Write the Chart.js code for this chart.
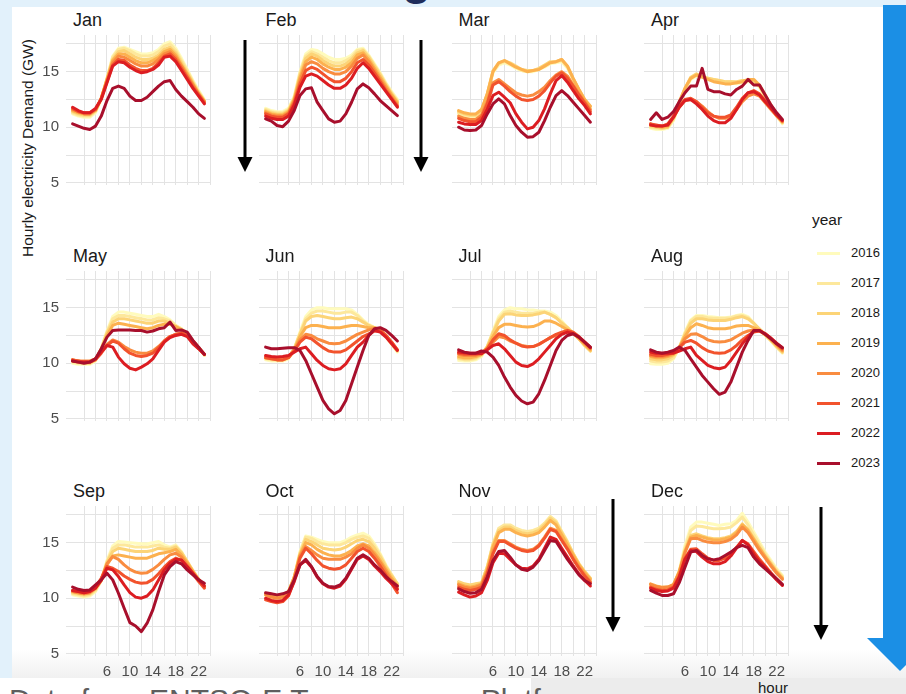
<!DOCTYPE html>
<html>
<head>
<meta charset="utf-8">
<script src="https://cdn.jsdelivr.net/npm/chart.js@4.4.0/dist/chart.umd.min.js"></script>
<style>
  html, body { margin: 0; padding: 0; background: #fff; }
  #page { position: relative; width: 906px; height: 694px; overflow: hidden; background: #fff; font-family: 'Liberation Sans', Arial, sans-serif; }
  .abs { position: absolute; }
  .panel-title { position: absolute; font-size: 18px; line-height: 18px; color: #1a1a1a; }
  .leg-key { position: absolute; left: 817px; width: 23px; height: 3.5px; }
  .leg-txt { position: absolute; left: 851px; font-size: 13px; line-height: 14px; color: #1a1a1a; }
  canvas { position: absolute; }
</style>
</head>
<body>
<div id="page">
  <div class="abs" style="left:0;top:0;width:906px;height:7px;background:#e2f1fb"></div>
  <div class="abs" style="left:0;top:0;width:12px;height:678px;background:#e2f1fb"></div>
  <div class="abs" style="left:12px;top:650px;width:894px;height:28px;background:linear-gradient(#ffffff,#f1f1f1)"></div>
  <div class="abs" style="left:531px;top:678px;width:375px;height:16px;background:#ececec"></div>
  <div class="abs" style="left:402px;top:-46px;font-size:48px;line-height:48px;font-weight:bold;color:#1f2d5c">g</div>
  <div class="abs" style="left:9px;top:685px;font-size:30px;line-height:30px;color:#5e5e5e;white-space:nowrap">Data from ENTSO-E Transparency Platform</div>
  <div class="abs" style="left:758px;top:680px;font-size:15px;line-height:15px;color:#1a1a1a">hour</div>
  <div class="abs" style="left:28px;top:148px;font-size:15.5px;color:#1a1a1a;white-space:nowrap;transform:translate(-50%,-50%) rotate(-90deg)">Hourly electricity Demand (GW)</div>
  <div class="abs" style="left:812px;top:212px;font-size:15.5px;line-height:16px;color:#1a1a1a">year</div>
  <div id="legend"></div>
  <div id="panels"></div>
  <svg class="abs" style="left:0;top:0" width="906" height="694">
    <rect x="883" y="5" width="34" height="634" fill="#1b8fe5"/>
    <polygon points="867,638 933,638 900,671" fill="#1b8fe5"/>
    <g stroke="#000" stroke-width="3">
      <line x1="245" y1="40" x2="245" y2="160"/>
      <line x1="421" y1="40" x2="421" y2="160"/>
      <line x1="613" y1="499" x2="613" y2="620"/>
      <line x1="821" y1="507" x2="821" y2="628"/>
    </g>
    <g fill="#000">
      <polygon points="237.5,157 252.5,157 245,172"/>
      <polygon points="413.5,157 428.5,157 421,172"/>
      <polygon points="605.5,617 620.5,617 613,632"/>
      <polygon points="813.5,625 828.5,625 821,640"/>
    </g>
  </svg>
</div>
<script>
const hours = [0,1,2,3,4,5,6,7,8,9,10,11,12,13,14,15,16,17,18,19,20,21,22,23];
const years = ['2016','2017','2018','2019','2020','2021','2022','2023'];
const months = ['Jan','Feb','Mar','Apr','May','Jun','Jul','Aug','Sep','Oct','Nov','Dec'];
const yTicks = [5, 7.5, 10, 12.5, 15, 17.5];
const yLabels = [5, 10, 15];
const xTicks = [2, 4, 6, 8, 10, 12, 14, 16, 18, 20, 22, 24];
const xLabels = [6, 10, 14, 18, 22];

// hourly demand (GW), one row per year 2016..2023
const jan = [
  [11.2,11.0,10.9,10.9,11.3,12.5,14.4,16.4,17.1,17.2,17.0,16.8,16.6,16.6,16.7,17.0,17.5,17.7,17.1,16.2,15.2,14.2,13.3,12.5],
  [11.3,11.1,11.0,11.0,11.4,12.6,14.4,16.3,17.0,17.1,16.9,16.6,16.4,16.4,16.5,16.8,17.3,17.5,16.9,16.0,15.1,14.1,13.2,12.4],
  [11.4,11.2,11.1,11.1,11.5,12.6,14.3,16.1,16.8,16.9,16.6,16.3,16.1,16.1,16.2,16.5,17.0,17.2,16.7,15.8,14.9,14.0,13.1,12.4],
  [11.5,11.3,11.2,11.2,11.5,12.6,14.3,16.0,16.6,16.6,16.3,16.0,15.8,15.8,16.0,16.3,16.8,17.0,16.5,15.6,14.8,13.9,13.0,12.3],
  [11.6,11.4,11.2,11.2,11.6,12.6,14.2,15.8,16.4,16.3,16.0,15.7,15.5,15.5,15.7,16.1,16.6,16.8,16.3,15.5,14.6,13.8,13.0,12.3],
  [11.7,11.4,11.3,11.3,11.6,12.6,14.1,15.6,16.1,16.0,15.6,15.3,15.1,15.1,15.3,15.8,16.4,16.6,16.1,15.3,14.5,13.6,12.9,12.2],
  [11.8,11.5,11.3,11.3,11.7,12.5,14.0,15.5,15.9,15.8,15.4,15.1,14.9,15.0,15.2,15.6,16.3,16.4,15.9,15.1,14.3,13.5,12.8,12.1],
  [10.3,10.1,9.9,9.8,10.1,11.0,12.4,13.5,13.7,13.5,12.8,12.4,12.4,12.7,13.2,13.7,14.1,14.2,13.4,12.8,12.3,11.8,11.2,10.8]
];
const feb = [
  [11.7,11.5,11.4,11.4,11.7,12.8,15.0,16.6,17.0,16.9,16.6,16.3,16.1,16.1,16.2,16.5,17.0,17.1,16.5,15.7,14.9,14.0,13.2,12.5],
  [11.6,11.4,11.3,11.3,11.6,12.7,14.9,16.4,16.8,16.6,16.3,16.0,15.8,15.8,16.0,16.3,16.9,17.0,16.4,15.6,14.8,13.9,13.1,12.4],
  [11.5,11.3,11.2,11.2,11.5,12.6,14.7,16.2,16.6,16.4,16.0,15.7,15.5,15.5,15.7,16.1,16.7,16.9,16.3,15.5,14.7,13.8,13.0,12.3],
  [11.4,11.2,11.1,11.1,11.4,12.5,14.5,15.9,16.3,16.1,15.7,15.4,15.2,15.2,15.4,15.8,16.5,16.7,16.1,15.3,14.5,13.7,12.9,12.2],
  [11.3,11.1,11.0,11.0,11.3,12.4,14.2,15.6,15.9,15.7,15.3,15.0,14.8,14.8,15.0,15.5,16.2,16.5,15.9,15.1,14.3,13.5,12.7,12.0],
  [11.2,11.0,10.9,10.9,11.2,12.2,13.9,15.1,15.4,15.2,14.8,14.4,14.1,14.1,14.4,15.0,15.8,16.1,15.6,14.9,14.1,13.3,12.6,11.9],
  [11.0,10.8,10.7,10.7,11.0,12.0,13.6,14.6,14.8,14.6,14.2,13.8,13.5,13.5,13.8,14.4,15.3,15.8,15.3,14.6,13.9,13.2,12.5,11.8],
  [10.75,10.55,10.15,10.05,10.55,11.5,12.85,13.45,13.55,12.25,11.5,10.75,10.45,10.55,11.2,12.25,13.45,13.9,13.55,13.0,12.4,11.95,11.5,11.05]
];
const mar = [
  [11.2,11.0,10.9,10.9,11.3,12.8,14.9,15.6,15.8,15.6,15.3,15.1,15.0,15.0,15.2,15.4,15.7,15.8,15.9,15.3,14.3,13.3,12.4,11.7],
  [11.3,11.1,11.0,11.0,11.4,12.9,15.0,15.7,15.9,15.7,15.4,15.1,15.0,15.1,15.2,15.5,15.8,15.9,16.0,15.4,14.3,13.3,12.4,11.8],
  [11.4,11.2,11.1,11.1,11.5,13.0,15.1,15.8,16.0,15.8,15.5,15.2,15.1,15.1,15.3,15.6,15.9,15.9,16.1,15.5,14.4,13.4,12.5,11.9],
  [11.5,11.3,11.2,11.2,11.6,13.0,15.0,15.8,16.0,15.7,15.4,15.2,15.0,15.1,15.2,15.5,15.8,15.9,16.1,15.5,14.4,13.4,12.5,11.9],
  [11.0,10.8,10.7,10.7,11.1,12.3,14.0,14.3,13.9,13.5,13.1,12.9,12.8,12.9,13.2,13.6,14.2,14.7,15.0,14.6,13.8,13.0,12.3,11.6],
  [10.8,10.6,10.5,10.5,10.9,12.1,13.8,14.1,13.7,13.2,12.8,12.5,12.4,12.5,12.8,13.3,14.0,14.6,14.9,14.4,13.7,12.9,12.2,11.4],
  [10.45,10.3,10.25,10.25,10.6,11.6,12.85,13.15,12.7,12.2,11.2,10.45,9.85,10.0,10.6,11.65,13.0,14.2,14.65,14.05,13.3,12.55,11.95,11.2],
  [10.0,9.75,9.7,9.75,10.15,11.2,12.1,12.55,12.1,11.05,10.15,9.55,9.1,9.15,9.55,10.6,11.8,12.85,13.3,12.85,12.25,11.65,11.05,10.45]
];
const apr = [
  [9.9,9.8,9.8,9.9,10.6,12.0,13.3,14.3,14.6,14.5,14.4,14.2,14.1,14.0,14.0,13.9,14.0,14.1,14.1,13.6,12.7,11.8,11.0,10.3],
  [10.0,9.9,9.9,10.0,10.7,12.1,13.4,14.4,14.7,14.6,14.4,14.3,14.2,14.1,14.1,14.0,14.1,14.2,14.2,13.7,12.8,11.9,11.1,10.4],
  [10.1,10.0,9.9,10.0,10.8,12.2,13.5,14.5,14.8,14.6,14.4,14.3,14.2,14.1,14.1,14.1,14.2,14.2,14.2,13.7,12.8,11.9,11.1,10.4],
  [10.2,10.1,10.0,10.1,10.9,12.3,13.5,14.4,14.7,14.5,14.3,14.1,14.0,13.9,13.9,14.0,14.1,14.3,14.3,13.8,12.9,12.0,11.2,10.5],
  [10.3,10.1,10.1,10.2,10.9,11.8,12.4,12.5,12.3,11.9,11.4,11.0,10.8,10.8,11.0,11.6,12.3,12.8,13.0,12.8,12.2,11.6,11.0,10.5],
  [10.3,10.2,10.1,10.3,11.0,11.9,12.5,12.6,12.3,11.8,11.3,11.0,10.9,10.9,11.1,11.8,12.6,13.1,13.3,13.0,12.4,11.8,11.1,10.6],
  [10.2,10.1,10.1,10.2,10.9,11.8,12.4,12.5,12.1,11.6,11.0,10.6,10.4,10.4,10.8,11.6,12.5,13.1,13.2,12.9,12.3,11.7,11.1,10.6],
  [10.7,11.3,10.7,10.9,11.4,12.3,13.1,13.7,13.7,15.3,13.4,13.2,13.2,13.0,12.9,13.4,13.7,14.3,13.8,13.8,12.9,12.0,11.3,10.7]
];
const may = [
  [10.0,9.9,9.9,9.9,10.2,11.3,12.9,14.2,14.6,14.6,14.5,14.4,14.3,14.2,14.2,14.4,14.2,13.9,13.4,13.1,12.6,12.0,11.4,10.7],
  [10.1,10.0,10.0,10.0,10.3,11.3,12.8,14.0,14.3,14.3,14.2,14.1,14.0,13.9,13.9,14.1,14.0,13.8,13.4,13.1,12.6,12.0,11.4,10.7],
  [10.2,10.1,10.0,10.0,10.3,11.3,12.7,13.7,14.0,14.0,13.9,13.8,13.7,13.6,13.6,13.8,13.8,13.6,13.3,13.0,12.6,12.0,11.4,10.8],
  [10.3,10.2,10.1,10.1,10.4,11.2,12.5,13.4,13.6,13.5,13.4,13.3,13.2,13.1,13.2,13.4,13.5,13.5,13.3,13.0,12.6,12.0,11.4,10.8],
  [10.3,10.2,10.2,10.2,10.4,11.0,11.7,12.1,11.9,11.5,11.2,11.0,10.9,10.9,11.1,11.5,12.0,12.4,12.6,12.7,12.5,12.0,11.4,10.8],
  [10.3,10.2,10.1,10.1,10.3,10.9,11.6,12.0,11.8,11.3,10.9,10.7,10.6,10.7,10.9,11.4,12.0,12.4,12.6,12.7,12.5,11.9,11.3,10.8],
  [10.2,10.1,10.1,10.1,10.4,11.0,11.6,11.45,10.55,9.95,9.55,9.4,9.65,9.95,10.4,11.15,11.9,12.3,12.5,12.6,12.4,11.75,11.3,10.8],
  [10.2,10.1,10.0,10.1,10.4,11.3,12.35,12.95,13.0,13.0,13.0,12.95,12.95,12.8,12.9,13.1,13.2,13.7,12.95,13.0,12.8,12.05,11.45,10.8]
];
const jun = [
  [10.3,10.2,10.2,10.2,10.4,11.3,12.8,14.2,14.8,15.0,15.0,14.9,14.9,14.9,14.9,14.8,14.4,13.9,13.5,13.2,13.0,12.4,11.7,11.0],
  [10.4,10.3,10.3,10.3,10.5,11.3,12.7,14.0,14.5,14.7,14.7,14.6,14.5,14.5,14.6,14.6,14.3,13.8,13.4,13.2,13.0,12.4,11.7,11.1],
  [10.5,10.4,10.3,10.3,10.5,11.3,12.6,13.8,14.2,14.3,14.2,14.1,14.0,14.0,14.1,14.15,14.0,13.7,13.4,13.2,13.0,12.4,11.8,11.1],
  [10.5,10.4,10.3,10.3,10.5,11.2,12.4,13.2,13.4,13.4,13.3,13.2,13.2,13.2,13.3,13.4,13.4,13.3,13.2,13.2,13.0,12.5,11.8,11.2],
  [10.6,10.5,10.4,10.4,10.6,11.2,12.1,12.6,12.5,12.2,12.0,11.8,11.75,11.8,12.0,12.3,12.6,12.8,13.0,13.1,13.0,12.5,11.9,11.2],
  [10.5,10.4,10.3,10.3,10.5,11.1,11.9,12.35,12.2,11.8,11.4,11.1,11.0,11.0,11.2,11.6,12.0,12.4,12.65,12.9,12.9,12.5,11.9,11.2],
  [10.7,10.6,10.55,10.6,10.7,11.0,11.3,11.45,10.85,10.25,9.8,9.5,9.4,9.5,9.95,10.7,11.45,11.9,12.5,12.95,12.8,12.35,11.75,11.15],
  [11.45,11.3,11.3,11.35,11.4,11.4,11.15,10.25,9.05,7.85,6.65,5.9,5.45,5.75,6.65,8.15,9.65,11.15,12.5,13.1,13.2,12.95,12.5,12.0]
];
const jul = [
  [10.25,10.2,10.2,10.3,10.6,11.5,12.9,14.2,14.8,15.0,14.9,14.9,14.8,14.8,14.7,14.7,14.6,14.3,13.8,13.2,12.7,12.2,11.6,11.1],
  [10.4,10.3,10.3,10.4,10.7,11.5,12.8,14.0,14.6,14.7,14.6,14.5,14.5,14.5,14.6,14.6,14.4,14.1,13.7,13.2,12.7,12.2,11.6,11.1],
  [10.5,10.4,10.4,10.5,10.8,11.5,12.7,13.8,14.4,14.45,14.35,14.3,14.3,14.35,14.45,14.6,14.4,14.1,13.6,13.2,12.7,12.2,11.6,11.1],
  [10.6,10.5,10.5,10.6,10.8,11.4,12.4,13.2,13.5,13.5,13.4,13.3,13.25,13.3,13.5,13.8,13.8,13.6,13.3,13.0,12.7,12.2,11.7,11.2],
  [10.8,10.7,10.7,10.7,10.9,11.3,11.9,12.4,12.3,12.0,11.8,11.6,11.5,11.5,11.7,12.0,12.3,12.5,12.7,12.8,12.7,12.3,11.8,11.3],
  [10.9,10.8,10.8,10.8,10.9,11.3,12.1,12.65,12.5,12.1,11.8,11.55,11.45,11.5,11.7,12.0,12.3,12.6,12.8,12.95,12.8,12.4,11.9,11.4],
  [11.0,10.95,10.9,10.9,10.85,11.2,11.6,11.75,11.3,10.7,10.1,9.8,9.7,9.95,10.4,11.0,11.6,12.2,12.6,12.8,12.65,12.35,11.9,11.4],
  [11.2,11.0,10.9,10.9,11.1,11.0,10.55,9.8,8.75,7.85,7.1,6.6,6.35,6.5,7.25,8.45,9.8,11.15,12.05,12.5,12.65,12.35,11.9,11.45]
];
const aug = [
  [9.95,9.9,9.9,10.0,10.4,11.4,12.8,13.9,14.3,14.3,14.2,14.15,14.1,14.1,14.15,14.3,14.4,14.2,13.6,13.0,12.5,12.0,11.4,10.9],
  [10.2,10.1,10.1,10.2,10.5,11.4,12.7,13.8,14.2,14.2,14.1,14.05,14.05,14.05,14.1,14.25,14.3,14.1,13.6,13.0,12.5,12.0,11.5,11.0],
  [10.4,10.3,10.3,10.4,10.7,11.4,12.6,13.6,14.0,14.0,13.9,13.85,13.85,13.85,13.95,14.1,14.2,14.0,13.6,13.1,12.6,12.1,11.5,11.0],
  [10.6,10.5,10.5,10.6,10.8,11.4,12.4,13.2,13.55,13.4,13.2,13.1,13.1,13.1,13.2,13.35,13.4,13.4,13.2,13.0,12.6,12.1,11.6,11.1],
  [10.7,10.6,10.6,10.7,10.9,11.4,12.2,12.6,12.65,12.4,12.1,11.95,11.9,11.95,12.1,12.4,12.7,12.9,13.0,12.9,12.6,12.2,11.7,11.2],
  [10.8,10.7,10.7,10.8,11.0,11.4,11.9,12.05,11.8,11.4,11.1,10.95,10.9,10.95,11.2,11.6,12.1,12.5,12.8,12.9,12.65,12.25,11.75,11.3],
  [11.0,10.9,10.9,10.9,10.9,11.1,11.3,11.45,10.7,10.25,9.8,9.6,9.5,9.65,10.25,11.0,11.75,12.35,12.9,12.95,12.65,12.25,11.8,11.4],
  [11.2,11.0,10.9,11.0,11.15,11.45,11.15,10.4,9.65,8.9,8.3,7.7,7.2,7.4,8.3,9.65,11.0,12.05,12.95,12.95,12.6,12.2,11.75,11.4]
];
const sep = [
  [10.3,10.2,10.1,10.2,10.6,11.6,13.4,14.7,15.1,15.05,15.0,14.95,14.9,14.9,15.0,15.1,14.8,14.6,14.8,14.2,13.3,12.4,11.6,11.0],
  [10.4,10.3,10.2,10.3,10.7,11.6,13.3,14.5,14.8,14.8,14.7,14.6,14.6,14.6,14.7,14.8,14.6,14.5,14.7,14.1,13.3,12.4,11.7,11.0],
  [10.5,10.4,10.3,10.4,10.8,11.6,13.2,14.2,14.5,14.4,14.3,14.2,14.2,14.2,14.3,14.5,14.4,14.4,14.6,14.1,13.3,12.5,11.7,11.1],
  [10.6,10.5,10.4,10.5,10.9,11.6,13.0,13.8,13.9,13.8,13.7,13.6,13.6,13.6,13.8,14.0,14.1,14.2,14.4,13.9,13.2,12.4,11.7,11.1],
  [10.6,10.5,10.4,10.5,10.9,11.7,13.1,13.75,13.5,13.0,12.6,12.35,12.25,12.3,12.6,13.0,13.5,13.9,14.05,13.7,13.0,12.3,11.6,11.0],
  [10.7,10.6,10.5,10.6,11.0,11.8,12.85,12.7,12.4,12.0,11.7,11.45,11.35,11.4,11.7,12.2,12.8,13.3,13.6,13.4,12.8,12.2,11.5,10.9],
  [10.7,10.6,10.5,10.6,10.9,11.6,12.7,12.55,11.95,11.2,10.5,10.1,10.0,10.2,10.75,11.65,12.55,13.15,13.5,13.45,12.85,12.25,11.65,11.1],
  [11.0,10.8,10.7,10.75,11.2,11.65,12.25,11.65,10.45,9.1,7.8,7.5,7.0,7.75,8.95,10.6,12.1,12.85,13.3,13.1,12.55,12.1,11.65,11.35]
];
const oct = [
  [10.2,10.0,9.9,10.0,10.5,11.9,14.2,15.6,15.5,15.3,15.1,15.0,15.0,15.0,15.2,15.5,15.7,15.85,15.6,14.9,14.0,13.0,12.1,11.3],
  [10.3,10.1,10.0,10.1,10.6,11.9,14.1,15.5,15.4,15.1,14.9,14.8,14.8,14.8,15.0,15.3,15.5,15.6,15.4,14.7,13.9,12.9,12.1,11.3],
  [10.4,10.2,10.1,10.2,10.6,11.9,14.0,15.3,15.1,14.8,14.5,14.4,14.35,14.4,14.6,14.9,15.2,15.3,15.1,14.5,13.7,12.8,12.0,11.3],
  [10.4,10.2,10.1,10.2,10.6,11.9,13.9,15.0,14.8,14.4,14.1,13.9,13.8,13.8,14.0,14.3,14.7,14.9,14.7,14.1,13.4,12.6,11.8,11.1],
  [10.3,10.1,10.0,10.1,10.5,11.8,13.8,14.65,14.3,13.9,13.6,13.5,13.5,13.5,13.7,14.0,14.5,14.8,14.5,13.9,13.2,12.4,11.6,10.9],
  [9.85,9.7,9.6,9.7,10.2,11.6,13.6,14.5,14.0,13.4,12.9,12.7,12.6,12.7,13.0,13.6,14.2,14.5,14.2,13.6,12.9,12.1,11.3,10.5],
  [10.0,9.8,9.7,9.8,10.3,11.5,13.0,13.4,12.8,11.9,11.3,11.0,10.9,11.1,11.7,12.6,13.5,13.8,13.5,12.9,12.4,11.8,11.3,10.8],
  [10.5,10.4,10.3,10.4,10.6,11.65,13.0,13.5,12.85,11.95,11.35,11.05,11.0,11.2,11.8,12.7,13.6,13.9,13.6,13.0,12.55,11.95,11.5,11.1]
];
const nov = [
  [11.3,11.1,11.1,11.2,11.3,12.8,14.9,16.2,16.55,16.55,16.25,16.05,15.95,16.05,16.25,16.7,17.3,16.9,15.95,15.05,14.0,13.1,12.35,11.75],
  [11.4,11.2,11.15,11.25,11.35,12.8,14.9,16.3,16.6,16.6,16.3,16.1,16.0,16.1,16.3,16.75,17.35,16.95,16.0,15.1,14.0,13.1,12.4,11.8],
  [11.5,11.3,11.2,11.3,11.4,12.8,14.8,16.1,16.4,16.4,16.1,15.9,15.8,15.9,16.1,16.6,17.2,16.8,15.9,15.0,14.0,13.1,12.4,11.8],
  [11.3,11.1,11.0,11.1,11.3,12.6,14.6,15.9,16.2,16.2,15.9,15.7,15.6,15.7,15.9,16.4,17.0,16.6,15.7,14.8,13.9,13.0,12.3,11.7],
  [11.2,11.0,10.9,11.0,11.2,12.4,14.2,15.2,15.2,14.9,14.6,14.4,14.3,14.4,14.8,15.5,16.3,16.1,15.3,14.5,13.6,12.8,12.1,11.5],
  [11.0,10.8,10.7,10.8,11.0,12.2,14.0,15.1,15.1,14.8,14.5,14.3,14.2,14.3,14.7,15.4,16.2,16.0,15.2,14.4,13.5,12.7,12.0,11.4],
  [10.55,10.3,10.1,10.2,10.5,11.6,13.2,14.05,14.0,13.5,13.0,12.7,12.65,12.9,13.5,14.5,15.5,15.3,14.5,13.7,12.9,12.2,11.6,11.1],
  [10.85,10.6,10.45,10.5,10.8,11.9,13.4,14.2,14.3,13.7,13.0,12.6,12.5,12.8,13.4,14.3,15.2,15.1,14.3,13.5,12.8,12.1,11.6,11.3]
];
const dec = [
  [11.15,11.0,10.85,10.9,11.15,12.5,14.75,16.4,16.85,16.85,16.75,16.65,16.55,16.65,16.7,17.0,17.65,16.85,15.95,15.05,14.15,13.4,12.65,12.05],
  [11.1,10.95,10.8,10.85,11.1,12.4,14.5,16.1,16.5,16.45,16.35,16.25,16.25,16.3,16.4,16.8,17.3,16.6,15.7,14.85,14.0,13.25,12.55,11.95],
  [11.2,11.0,10.9,10.95,11.2,12.4,14.3,15.65,15.8,15.6,15.45,15.35,15.35,15.45,15.6,16.0,16.7,16.2,15.4,14.6,13.8,13.1,12.4,11.85],
  [11.3,11.1,11.0,11.0,11.25,12.4,14.2,15.5,15.65,15.5,15.35,15.25,15.25,15.35,15.5,15.9,16.6,16.1,15.3,14.5,13.75,13.05,12.35,11.8],
  [11.25,11.05,10.95,11.0,11.2,12.3,14.1,15.35,15.4,15.2,15.05,15.0,15.0,15.1,15.3,15.7,16.4,15.9,15.1,14.3,13.6,12.9,12.25,11.7],
  [11.0,10.8,10.7,10.75,11.0,12.0,13.6,14.4,14.45,14.0,13.6,13.4,13.4,13.6,14.0,14.6,15.2,14.9,14.2,13.5,12.9,12.3,11.7,11.2],
  [10.9,10.7,10.6,10.65,10.9,11.9,13.5,14.3,14.2,13.7,13.3,13.1,13.1,13.3,13.8,14.5,15.2,14.8,14.0,13.3,12.8,12.2,11.65,11.15],
  [10.7,10.45,10.25,10.25,10.4,11.4,12.8,14.15,14.3,13.85,13.55,13.45,13.55,13.85,14.15,14.55,14.75,14.55,13.7,13.1,12.65,12.2,11.75,11.25]
];

const demandByMonth = [jan, feb, mar, apr, may, jun, jul, aug, sep, oct, nov, dec];
const yearColors = ['#fffbbd', '#fde89c', '#fcd477', '#fcb14f', '#f98c40', '#f2532d', '#dc1d22', '#a80f2c'];

const colLeft = [66, 258.5, 451.5, 644];
const rowTop = [35, 270.5, 506];
const plotW = 145, plotH = 150, axisW = 45, axisH = 30, padTop = 6, padRight = 4;

Chart.defaults.font.family = "'Liberation Sans', Arial, sans-serif";

// legend
const legend = document.getElementById('legend');
years.forEach((yr, k) => {
  const cy = 253.3 + 30 * k;
  const key = document.createElement('div');
  key.className = 'leg-key';
  key.style.top = (cy - 1.75) + 'px';
  key.style.background = yearColors[k];
  legend.appendChild(key);
  const txt = document.createElement('div');
  txt.className = 'leg-txt';
  txt.style.top = (cy - 7) + 'px';
  txt.textContent = yr;
  legend.appendChild(txt);
});

const panels = document.getElementById('panels');
months.forEach((mon, m) => {
  const col = m % 4, row = Math.floor(m / 4);
  const left = colLeft[col], top = rowTop[row];

  const title = document.createElement('div');
  title.className = 'panel-title';
  title.style.left = (left + 7) + 'px';
  title.style.top = (top - 24) + 'px';
  title.textContent = mon;
  panels.appendChild(title);

  const cv = document.createElement('canvas');
  const w = axisW + plotW + padRight, h = padTop + plotH + axisH;
  cv.width = w; cv.height = h;
  cv.style.width = w + 'px'; cv.style.height = h + 'px';
  cv.style.left = (left - axisW) + 'px';
  cv.style.top = (top - padTop) + 'px';
  panels.appendChild(cv);

  const series = demandByMonth[m];
  new Chart(cv, {
    type: 'line',
    data: {
      datasets: years.map((yr, k) => ({
        label: yr,
        data: hours.map((hr, i) => ({ x: hr, y: series[k][i] })),
        borderColor: yearColors[k],
        borderWidth: 3,
        pointRadius: 0,
        tension: 0,
        borderJoinStyle: 'round',
        borderCapStyle: 'round',
        order: years.length - 1 - k
      }))
    },
    options: {
      responsive: false,
      animation: false,
      devicePixelRatio: 1,
      layout: { padding: { top: padTop, right: padRight, left: 0, bottom: 0 }, autoPadding: false },
      plugins: { legend: { display: false }, tooltip: { enabled: false } },
      scales: {
        x: {
          type: 'linear',
          min: -1.15,
          max: 24.15,
          afterBuildTicks: s => { s.ticks = xTicks.map(v => ({ value: v })); },
          afterFit: s => { s.height = axisH; s.paddingLeft = 0; s.paddingRight = 0; },
          grid: { color: '#e3e3e3', lineWidth: 1, drawTicks: false },
          border: { display: false },
          ticks: {
            autoSkip: false, maxRotation: 0, padding: 7, color: '#4d4d4d',
            font: { size: 15 },
            callback: v => (row === 2 && xLabels.includes(v)) ? String(v) : ''
          }
        },
        y: {
          min: 4.8,
          max: 18.3,
          afterBuildTicks: s => { s.ticks = yTicks.map(v => ({ value: v })); },
          afterFit: s => { s.width = axisW; s.paddingTop = 0; s.paddingBottom = 0; },
          grid: { color: '#e3e3e3', lineWidth: 1, drawTicks: false },
          border: { display: false },
          ticks: {
            autoSkip: false, padding: 7, color: '#4d4d4d',
            font: { size: 15 },
            callback: v => (col === 0 && yLabels.includes(v)) ? String(v) : ''
          }
        }
      }
    }
  });
});
</script>
</body>
</html>
